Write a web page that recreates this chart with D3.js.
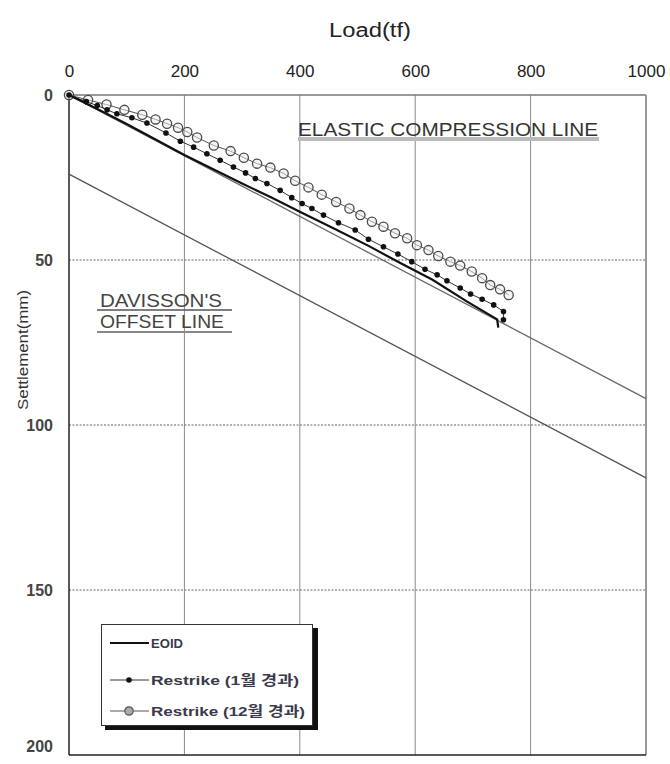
<!DOCTYPE html>
<html><head><meta charset="utf-8">
<script src="https://cdn.jsdelivr.net/npm/d3@7"></script>
<style>body{margin:0;background:#fff}</style>
</head><body>
<svg id="c" width="670" height="764"></svg>
<script>
const xTicks = [0, 200, 400, 600, 800, 1000];
const yTicks = [0, 50, 100, 150, 200];
const eoidLoad   = [0, 50, 100, 150, 200, 250, 300, 350, 400, 460, 520, 575, 630, 690, 742, 744];
const eoidSettle = [0, 4.3, 8.8, 13.5, 18.2, 22.5, 26.8, 31.0, 35.4, 40.5, 45.8, 51.0, 56.0, 62.6, 68.0, 70.5];
const r1Load   = [0, 30, 49, 66, 83, 109, 135, 168, 193, 216, 239, 262, 285, 306, 323, 343, 366, 386, 404, 421, 441, 467, 496, 519, 545, 570, 594, 617, 638, 655, 678, 696, 716, 736, 753, 753];
const r1Settle = [0, 2.0, 3.2, 4.5, 5.7, 6.9, 8.5, 11.5, 14.0, 15.8, 17.8, 19.8, 21.8, 23.6, 25.3, 26.8, 28.9, 31.1, 32.9, 34.4, 36.4, 38.7, 40.9, 43.7, 46.0, 48.2, 50.5, 52.8, 54.5, 56.3, 58.5, 60.3, 61.9, 63.6, 65.6, 68.1];
const r12Load   = [0, 33, 65, 96, 127, 150, 170, 189, 205, 222, 251, 280, 303, 326, 349, 372, 392, 415, 438, 463, 486, 505, 525, 545, 565, 586, 603, 623, 640, 661, 678, 698, 716, 730, 747, 762];
const r12Settle = [0, 1.5, 2.9, 4.5, 6.0, 7.4, 8.7, 9.9, 11.2, 12.9, 15.3, 17.0, 19.0, 20.8, 22.0, 23.8, 26.0, 28.0, 30.2, 32.4, 34.4, 36.4, 38.4, 39.9, 41.9, 43.4, 45.5, 47.0, 48.8, 50.5, 51.7, 53.5, 55.5, 57.6, 58.9, 60.6];
const elasticLoad = [0, 1000], elasticSettle = [0, 92];
const offsetLoad = [0, 1000], offsetSettle = [24, 116];
const legendLabels = ["EOID", "Restrike (1월 경과)", "Restrike (12월 경과)"];

const svg = d3.select("#c");
const x = d3.scaleLinear().domain([0, 1000]).range([69, 646]);
const y = d3.scaleLinear().domain([0, 200]).range([95, 755]);
const font = "Arial, 'Liberation Sans', sans-serif";

// grid
svg.append("g").selectAll("line").data(xTicks.filter(d => d > 0 && d < 1000)).join("line")
  .attr("x1", d => x(d)).attr("x2", d => x(d)).attr("y1", y(0)).attr("y2", y(200))
  .attr("stroke", "#8a8a8a").attr("stroke-width", 1);
svg.append("g").selectAll("line").data(yTicks.filter(d => d > 0 && d < 200)).join("line")
  .attr("x1", x(0)).attr("x2", x(1000)).attr("y1", d => y(d)).attr("y2", d => y(d))
  .attr("stroke", "#666").attr("stroke-width", 1).attr("stroke-dasharray", "2,1.5");

// borders
svg.append("line").attr("x1", x(0)).attr("x2", x(1000)).attr("y1", y(0)).attr("y2", y(0)).attr("stroke", "#777").attr("stroke-width", 1.5);
svg.append("line").attr("x1", x(1000)).attr("x2", x(1000)).attr("y1", y(0)).attr("y2", y(200)).attr("stroke", "#999").attr("stroke-width", 2);
svg.append("line").attr("x1", x(0)).attr("x2", x(0)).attr("y1", y(0)).attr("y2", y(200)).attr("stroke", "#222").attr("stroke-width", 1.5);
svg.append("line").attr("x1", x(0)).attr("x2", x(1000)).attr("y1", y(200)).attr("y2", y(200)).attr("stroke", "#222").attr("stroke-width", 1.5);

// axes labels via d3 axes
const xAxis = svg.append("g").attr("transform", `translate(0,${y(0)})`)
  .call(d3.axisTop(x).tickValues(xTicks).tickSize(0).tickPadding(18).tickFormat(d3.format("d")));
xAxis.select(".domain").remove();
xAxis.selectAll("text").attr("font-family", font).attr("font-size", 17).attr("fill", "#222");
const yAxis = svg.append("g").attr("transform", `translate(${x(0)},0)`)
  .call(d3.axisLeft(y).tickValues(yTicks).tickSize(0).tickPadding(16).tickFormat(d3.format("d")));
yAxis.select(".domain").remove();
yAxis.selectAll("text").attr("font-family", font).attr("font-size", 16).attr("font-weight", "bold").attr("fill", "#444");
yAxis.selectAll(".tick").filter(d => d === 200).select("text").attr("dy", "-0.25em");

svg.append("text").attr("x", 370).attr("y", 37).attr("text-anchor", "middle")
  .attr("font-family", "'Liberation Sans Narrow', Arial, sans-serif").attr("font-size", 20)
  .attr("textLength", 82).attr("lengthAdjust", "spacingAndGlyphs").attr("fill", "#222").text("Load(tf)");
svg.append("text").attr("transform", "translate(28,350) rotate(-90)").attr("text-anchor", "middle")
  .attr("font-family", font).attr("font-size", 15).attr("fill", "#333")
  .attr("textLength", 120).attr("lengthAdjust", "spacingAndGlyphs").text("Settlement(mm)");

// reference lines
const line = d3.line().x(d => x(d[0])).y(d => y(d[1]));
svg.append("path").attr("d", line(d3.zip(elasticLoad, elasticSettle))).attr("fill", "none").attr("stroke", "#6a6a6a").attr("stroke-width", 1.3);
svg.append("path").attr("d", line(d3.zip(offsetLoad, offsetSettle))).attr("fill", "none").attr("stroke", "#555").attr("stroke-width", 1.3);

// annotations
svg.append("rect").attr("x", 298).attr("y", 137).attr("width", 301).attr("height", 4).attr("fill", "#bbb");
svg.append("text").attr("x", 298).attr("y", 136).attr("font-family", font).attr("font-size", 18)
  .attr("textLength", 300).attr("lengthAdjust", "spacingAndGlyphs").attr("fill", "#333").text("ELASTIC COMPRESSION LINE");
svg.append("text").attr("x", 100).attr("y", 307).attr("font-family", font).attr("font-size", 18)
  .attr("textLength", 122).attr("lengthAdjust", "spacingAndGlyphs").attr("fill", "#444").text("DAVISSON'S");
svg.append("line").attr("x1", 97).attr("x2", 232).attr("y1", 310).attr("y2", 310).attr("stroke", "#555").attr("stroke-width", 1.5);
svg.append("text").attr("x", 100).attr("y", 328).attr("font-family", font).attr("font-size", 18)
  .attr("textLength", 124).attr("lengthAdjust", "spacingAndGlyphs").attr("fill", "#444").text("OFFSET LINE");
svg.append("line").attr("x1", 97).attr("x2", 232).attr("y1", 332).attr("y2", 332).attr("stroke", "#888").attr("stroke-width", 2);

// series
const r12 = d3.zip(r12Load, r12Settle);
svg.append("path").attr("d", line(r12)).attr("fill", "none").attr("stroke", "#555").attr("stroke-width", 1);
svg.append("g").selectAll("circle").data(r12).join("circle")
  .attr("cx", d => x(d[0])).attr("cy", d => y(d[1])).attr("r", 4.6)
  .attr("fill", "#eee").attr("fill-opacity", 0.5).attr("stroke", "#4a4a4a").attr("stroke-width", 1.3);
const r1 = d3.zip(r1Load, r1Settle);
svg.append("path").attr("d", line(r1)).attr("fill", "none").attr("stroke", "#333").attr("stroke-width", 1);
svg.append("g").selectAll("circle").data(r1).join("circle")
  .attr("cx", d => x(d[0])).attr("cy", d => y(d[1])).attr("r", 2.8).attr("fill", "#111");
svg.append("path").attr("d", line(d3.zip(eoidLoad, eoidSettle))).attr("fill", "none").attr("stroke", "#111").attr("stroke-width", 2.2);

// legend
svg.append("rect").attr("x", 105).attr("y", 628).attr("width", 213).attr("height", 102).attr("fill", "#111");
svg.append("rect").attr("x", 101.5).attr("y", 624.5).attr("width", 211).attr("height", 101).attr("fill", "#fff").attr("stroke", "#333").attr("stroke-width", 1);
const ly = [643, 680, 711];
const lw = [32, 148, 154];
const lg = svg.append("g").selectAll("g").data(legendLabels).join("g").attr("transform", (d, i) => `translate(0,${ly[i]})`);
lg.append("line").attr("x1", 110).attr("x2", 149).attr("stroke", (d, i) => i === 0 ? "#111" : (i === 1 ? "#333" : "#555"))
  .attr("stroke-width", (d, i) => i === 0 ? 2.2 : 1);
lg.filter((d, i) => i === 1).append("circle").attr("cx", 129).attr("r", 2.8).attr("fill", "#111");
lg.filter((d, i) => i === 2).append("circle").attr("cx", 129).attr("r", 4.2).attr("fill", "#aaa").attr("stroke", "#555").attr("stroke-width", 1.2);
lg.append("text").attr("x", 151).attr("y", 5).attr("font-family", "Arial, 'Noto Sans CJK KR', sans-serif").attr("font-size", 13.5)
  .attr("font-weight", "bold").attr("fill", "#3a3a4a")
  .attr("textLength", (d, i) => lw[i]).attr("lengthAdjust", "spacingAndGlyphs").text(d => d);
</script>
</body></html>
